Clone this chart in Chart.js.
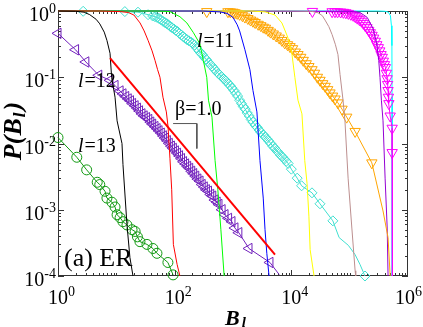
<!DOCTYPE html>
<html lang="en">
<head>
<meta charset="UTF-8">
<title>P(B_l) ER</title>
<script src="https://cdn.jsdelivr.net/npm/chart.js@4.4.1/dist/chart.umd.min.js"></script>
<style>
    html, body { margin: 0; padding: 0; background: #fff; }
</style>
</head>
<body>
<canvas id="myChart" width="423" height="327"></canvas>
<script>
// B_l values (x) and P(B_l) values (y)

// plain curves, no markers
const blackB = [1, 2, 2.8, 3.5, 4.5, 5.2, 6.2, 6.9, 7.8, 8.3, 9.5, 10.3, 12.5, 13, 15.2, 17.1, 19.3];
const blackP = [1, 0.99, 0.96, 0.88, 0.75, 0.64, 0.48, 0.36, 0.23, 0.1, 0.05, 0.022, 0.01, 0.0048, 0.0006, 0.00019, 0.0001];
const redB = [1, 5, 11.6, 16, 20, 25.5, 30, 35, 41, 46, 51, 56, 63, 72, 77, 83, 89, 95, 110, 123];
const redP = [1, 1, 0.98, 0.95, 0.87, 0.66, 0.5, 0.36, 0.25, 0.18, 0.13, 0.1, 0.05, 0.03, 0.018, 0.006, 0.002, 0.0003, 0.00015, 0.0001];
const greenB = [1, 50, 83, 123, 162, 210, 270, 310, 355, 380, 436, 493, 550, 620, 705];
const greenP = [1, 1, 0.98, 0.82, 0.66, 0.47, 0.32, 0.18, 0.1, 0.045, 0.025, 0.0055, 0.002, 0.0005, 0.0001];
const blueB = [1, 300, 600, 790, 1000, 1180, 1300, 1600, 1950, 2200, 2570, 2900, 3300, 3540, 3800, 4150];
const blueP = [1, 1, 0.97, 0.92, 0.8, 0.62, 0.5, 0.26, 0.13, 0.063, 0.03, 0.0055, 0.0015, 0.0005, 0.00022, 0.0001];
const yellowB = [1, 2000, 3550, 5250, 6900, 8700, 10200, 11500, 13000, 15200, 17000, 18600, 20000, 21000, 24500];
const yellowP = [1, 1, 0.97, 0.87, 0.66, 0.4, 0.23, 0.1, 0.045, 0.028, 0.0055, 0.0025, 0.0008, 0.00025, 0.0001];
const brownB = [1, 10000, 22000, 28700, 34000, 37800, 44000, 50000, 57000, 63000, 68400, 77000, 83000, 94000, 109000, 124000, 127000];
const brownP = [1, 1, 0.99, 0.94, 0.85, 0.73, 0.58, 0.44, 0.31, 0.22, 0.11, 0.045, 0.022, 0.003, 0.00053, 0.00012, 0.0001];
const violetB = [1, 100000, 150000, 200000, 250000, 290000, 315000, 331000, 350000, 373000, 405000, 440000, 455000];
const violetP = [1, 0.99, 0.95, 0.8, 0.55, 0.33, 0.18, 0.1, 0.045, 0.022, 0.003, 0.00053, 0.0001];
const cyanB = [1, 300000, 404000, 460000, 500000, 520000, 530000, 533000, 535000, 537000];
const cyanP = [1, 1, 0.99, 0.96, 0.85, 0.6, 0.3, 0.05, 0.003, 0.0001];

// l=11 (diamonds)
const diaB = [2.7, 14, 23.5, 35, 42, 46, 50, 54, 58, 63, 68, 73, 78, 84, 90, 97, 104, 112, 120, 130, 140, 150, 162, 175, 190, 205, 220, 240, 260, 280, 300, 325, 350, 380, 410, 440, 480, 520, 560, 600, 650, 700, 760, 820, 890, 960, 1040, 1120, 1200, 1300, 1400, 1500, 1620, 1750, 1900, 2050, 2200, 2400, 2600, 2800, 3000, 3300, 3550, 3800, 4100, 4450, 4800, 5200, 5600, 6000, 6500, 7000, 7600, 8200, 8800, 10000, 12600, 15000, 22600, 31000, 51500];
const diaP = [0.99, 0.98, 0.96, 0.88, 0.84, 0.82, 0.8, 0.77, 0.74, 0.7, 0.67, 0.645, 0.62, 0.585, 0.56, 0.535, 0.51, 0.49, 0.46, 0.435, 0.41, 0.39, 0.37, 0.355, 0.34, 0.322, 0.305, 0.275, 0.25, 0.232, 0.218, 0.198, 0.185, 0.168, 0.155, 0.146, 0.133, 0.122, 0.114, 0.108, 0.1, 0.094, 0.088, 0.081, 0.075, 0.069, 0.063, 0.057, 0.052, 0.045, 0.04, 0.036, 0.033, 0.029, 0.026, 0.023, 0.021, 0.019, 0.0175, 0.016, 0.0148, 0.0136, 0.0126, 0.0118, 0.0109, 0.01, 0.0091, 0.0085, 0.0078, 0.0073, 0.0067, 0.0063, 0.0058, 0.0054, 0.005, 0.0041, 0.003, 0.0023, 0.0018, 0.00123, 0.00068];
const diaTailB = [51500, 66000, 95000, 124000, 150000, 183000];
const diaTailP = [0.00068, 0.00038, 0.00029, 0.00021, 0.00015, 0.0001];

// l=12 (left triangles)
const triB = [1, 2, 3, 5, 7.8, 9.5, 11.6, 13, 14.5, 16, 17.5, 19, 21, 23, 25, 27.5, 30, 33, 36, 39, 42, 46, 50, 54, 59, 64, 69, 75, 81, 88, 95, 103, 112, 121, 131, 142, 154, 167, 181, 196, 212, 230, 250, 272, 296, 322, 350, 380, 415, 450, 490, 535, 575, 650, 730, 840, 960, 1080, 1260, 1880, 4300];
const triP = [0.46, 0.26, 0.17, 0.107, 0.09, 0.075, 0.062, 0.056, 0.051, 0.047, 0.044, 0.04, 0.037, 0.034, 0.031, 0.028, 0.026, 0.0245, 0.023, 0.021, 0.0195, 0.018, 0.0167, 0.0155, 0.0143, 0.013, 0.012, 0.011, 0.01, 0.0091, 0.0084, 0.0077, 0.0071, 0.0065, 0.0059, 0.0053, 0.0049, 0.0045, 0.0042, 0.0038, 0.0035, 0.0032, 0.0029, 0.0027, 0.0024, 0.0022, 0.002, 0.0019, 0.0017, 0.0016, 0.0014, 0.0013, 0.0012, 0.001, 0.00084, 0.00074, 0.00066, 0.00053, 0.00045, 0.00026, 0.00016];
const triTailB = [4300, 6200];
const triTailP = [0.00016, 0.000105];

// l=13 (circles)
const circB = [1, 2.1, 3.1, 4.7, 5.2, 6.4, 6.9, 8.4, 9.5, 10.3, 11.6, 13, 15.2, 18.6, 21, 23, 25.4, 33.5, 42.4, 49.7, 76.6, 93.9];
const circP = [0.0123, 0.0062, 0.004, 0.0026, 0.0024, 0.0019, 0.0015, 0.0013, 0.0011, 0.00084, 0.00076, 0.00066, 0.00059, 0.0005, 0.00047, 0.00039, 0.00033, 0.0003, 0.00026, 0.00022, 0.00016, 0.000104];

// orange down triangles
const oraB = [355, 820, 900, 1000, 1080, 1180, 1300, 1450, 1600, 1800, 2000, 2200, 2400, 2700, 3000, 3300, 3600, 4000, 4400, 4900, 5500, 6200, 6900, 7700, 8600, 9500, 10500, 11700, 13000, 14500, 16000, 18000, 20000, 22600, 25000, 28000, 31000, 34500, 38000, 42000, 46000, 51000, 56000, 63000, 74000, 89000, 124000, 240000];
const oraP = [0.98, 0.975, 0.97, 0.96, 0.94, 0.92, 0.89, 0.85, 0.81, 0.77, 0.73, 0.7, 0.67, 0.63, 0.6, 0.57, 0.55, 0.51, 0.48, 0.45, 0.42, 0.39, 0.36, 0.33, 0.31, 0.29, 0.27, 0.24, 0.22, 0.2, 0.18, 0.16, 0.145, 0.13, 0.115, 0.1, 0.09, 0.08, 0.073, 0.065, 0.058, 0.052, 0.047, 0.041, 0.033, 0.025, 0.0152, 0.0051];
const oraTailB = [240000, 373000, 455000, 495000];
const oraTailP = [0.0051, 0.00096, 0.00038, 0.0001];

// magenta down triangles
const magB = [23000, 50000, 56000, 62000, 70000, 78000, 86000, 95000, 105000, 115000, 125000, 135000, 147000, 160000, 172000, 185000, 198000, 212000, 226000, 242000, 258000, 275000, 292000, 310000, 328000, 345000, 362000, 378000, 395000, 410000, 425000, 438000, 448000, 455000, 462000, 470000, 495000, 535000, 535000];
const magP = [0.985, 0.975, 0.975, 0.97, 0.965, 0.955, 0.94, 0.92, 0.89, 0.86, 0.82, 0.78, 0.74, 0.7, 0.65, 0.6, 0.56, 0.51, 0.47, 0.43, 0.39, 0.35, 0.31, 0.28, 0.25, 0.22, 0.2, 0.175, 0.155, 0.14, 0.115, 0.095, 0.078, 0.063, 0.05, 0.04, 0.026, 0.017, 0.0073];
const magTailB = [535000, 540000];
const magTailP = [0.0073, 0.0001];

// slope guide (beta = 1.0) and its little step
const guideB = [7.8, 5250];
const guideP = [0.194, 0.00021];
const stepB = [94, 240, 240];
const stepP = [0.02, 0.02, 0.0084];

// axis ticks
const xLabelExp = [0, 2, 4, 6];
const xDecades = [0, 1, 2, 3, 4, 5];
const yLabelExp = [0, -1, -2, -3, -4];
const yDecades = [-4, -3, -2, -1];

const serif = '"Liberation Serif", "Times New Roman", serif';

function pts(bs, ps) {
    return bs.map((b, i) => ({x: b, y: ps[i]}));
}

function curve(bs, ps, color, width) {
    return {data: pts(bs, ps), borderColor: color, borderWidth: width || 1,
            pointRadius: 0, fill: false, clip: false};
}

function marked(bs, ps, color, style, radius, rot) {
    return {data: pts(bs, ps), borderColor: color, borderWidth: 1,
            pointStyle: style, pointRadius: radius, pointRotation: rot || 0,
            pointBorderColor: color, pointBackgroundColor: 'rgba(0,0,0,0)',
            pointBorderWidth: 1, fill: false, clip: false};
}

var datasets = [
    curve(guideB, guideP, '#ff0000', 2),
    curve(stepB, stepP, '#555555', 1),
    curve(blackB, blackP, '#000000'),
    curve(redB, redP, '#ff0000'),
    curve(greenB, greenP, '#00ff00'),
    curve(blueB, blueP, '#0000ff'),
    curve(yellowB, yellowP, '#ffff00'),
    curve(brownB, brownP, '#bc8f8f'),
    marked(circB, circP, '#119911', 'circle', 5),
    marked(triB, triP, '#7221bc', 'triangle', 6, 270),
    curve(triTailB, triTailP, '#7221bc'),
    marked(diaB, diaP, '#40e0d0', 'rectRot', 5),
    curve(diaTailB, diaTailP, '#40e0d0'),
    marked(oraB, oraP, '#ffa500', 'triangle', 6, 180),
    curve(oraTailB, oraTailP, '#ffa500'),
    curve(violetB, violetP, '#9400d3'),
    marked(magB, magP, '#ff00ff', 'triangle', 6, 180),
    curve(magTailB, magTailP, '#ff00ff'),
    curve(cyanB, cyanP, '#00ffff')
];
// last point of the diamond tail carries a marker
datasets[12].pointStyle = 'rectRot';
datasets[12].pointBorderColor = '#40e0d0';
datasets[12].pointBackgroundColor = 'rgba(0,0,0,0)';
datasets[12].pointRadius = function(c) { return c.dataIndex === diaTailB.length - 1 ? 5 : 0; };

function pow10(ctx, exp, x, y, align) {
    ctx.font = '20px ' + serif;
    var w1 = ctx.measureText('10').width;
    ctx.font = '14px ' + serif;
    var w2 = ctx.measureText(String(exp)).width;
    var left = align === 'center' ? x - w1 / 2 : x - w1 - w2;
    // keep the last label inside the canvas
    if (left + w1 + w2 > 422) left = 422 - w1 - w2;
    ctx.font = '20px ' + serif;
    ctx.fillText('10', left, y);
    ctx.font = '14px ' + serif;
    ctx.fillText(String(exp), left + w1, y - 8);
}

function lLabel(ctx, x, y, rest) {
    ctx.font = 'italic 20px ' + serif;
    ctx.fillText('l', x, y);
    var w = ctx.measureText('l').width;
    ctx.font = '20px ' + serif;
    ctx.fillText(rest, x + w + 1, y);
}

const decor = {
    id: 'decor',
    beforeDatasetsDraw(chart) {
        var ctx = chart.ctx, a = chart.chartArea;
        var xs = chart.scales.x, ys = chart.scales.y;
        ctx.save();
        ctx.strokeStyle = '#333';
        ctx.lineWidth = 1;
        ctx.strokeRect(a.left + 0.5, a.top + 0.5, a.right - a.left - 1, a.bottom - a.top - 1);
        ctx.beginPath();
        // x ticks: major every two decades, minor at k*10^n
        xDecades.forEach(function(e) {
            for (var k = 1; k <= 9; k++) {
                var v = k * Math.pow(10, e);
                var len = (k === 1 && e % 2 === 0) ? 6 : 3;
                var px = Math.round(xs.getPixelForValue(v)) + 0.5;
                ctx.moveTo(px, a.bottom); ctx.lineTo(px, a.bottom - len);
                ctx.moveTo(px, a.top); ctx.lineTo(px, a.top + len);
            }
        });
        yDecades.forEach(function(e) {
            for (var k = 1; k <= 9; k++) {
                var v = k * Math.pow(10, e);
                var len = k === 1 ? 6 : 3;
                var py = Math.round(ys.getPixelForValue(v)) + 0.5;
                ctx.moveTo(a.left, py); ctx.lineTo(a.left + len, py);
                ctx.moveTo(a.right, py); ctx.lineTo(a.right - len, py);
            }
        });
        ctx.stroke();
        ctx.restore();
    },
    afterDraw(chart) {
        var ctx = chart.ctx;
        var xs = chart.scales.x, ys = chart.scales.y;
        ctx.save();
        ctx.fillStyle = '#000';
        ctx.textBaseline = 'alphabetic';
        ctx.textAlign = 'left';
        xLabelExp.forEach(function(e) {
            pow10(ctx, e, xs.getPixelForValue(Math.pow(10, e)), 304, 'center');
        });
        yLabelExp.forEach(function(e) {
            pow10(ctx, e, 56, ys.getPixelForValue(Math.pow(10, e)) + 10, 'right');
        });

        // axis titles
        ctx.font = 'italic bold 22px ' + serif;
        ctx.fillText('B', 225, 325);
        var wb = ctx.measureText('B').width;
        ctx.font = 'italic bold 15px ' + serif;
        ctx.fillText('l', 225 + wb + 2, 327);

        ctx.save();
        ctx.font = 'italic bold 26px ' + serif;
        var wp = ctx.measureText('P(B').width;
        var wc = ctx.measureText(')').width;
        ctx.font = 'italic bold 17px ' + serif;
        var wl = ctx.measureText('l').width;
        var total = wp + wl + 3 + wc;
        ctx.translate(21, 131 + total / 2);
        ctx.rotate(-Math.PI / 2);
        ctx.font = 'italic bold 26px ' + serif;
        ctx.fillText('P(B', 0, 0);
        ctx.font = 'italic bold 17px ' + serif;
        ctx.fillText('l', wp + 1, 4);
        ctx.font = 'italic bold 26px ' + serif;
        ctx.fillText(')', wp + wl + 3, 0);
        ctx.restore();

        // annotations
        lLabel(ctx, 197, 47, '=11');
        lLabel(ctx, 78, 87, '=12');
        lLabel(ctx, 78, 152, '=13');
        ctx.font = '20px ' + serif;
        ctx.fillText('\u03b2=1.0', 175, 115);
        ctx.font = '26px ' + serif;
        ctx.fillText('(a) ER', 64, 266);
        ctx.restore();
    }
};

var chart = new Chart(document.getElementById('myChart'), {
    type: 'line',
    data: {datasets: datasets},
    options: {
        responsive: false,
        animation: false,
        devicePixelRatio: 1,
        layout: {padding: {left: 58, right: 15, top: 11, bottom: 51}},
        elements: {line: {tension: 0}},
        plugins: {legend: {display: false}, tooltip: {enabled: false}},
        scales: {
            x: {type: 'logarithmic', min: 1, max: 1e6, display: false},
            y: {type: 'logarithmic', min: 1e-4, max: 1, display: false}
        }
    },
    plugins: [decor]
});
</script>
</body>
</html>
